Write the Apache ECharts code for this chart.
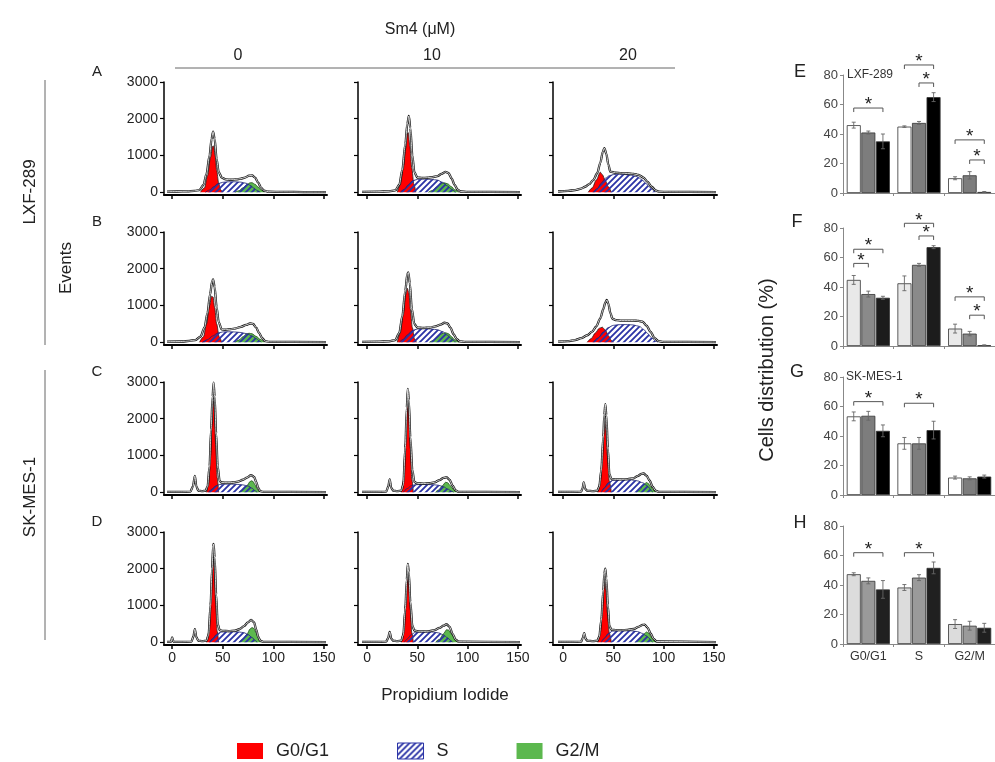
<!DOCTYPE html>
<html><head><meta charset="utf-8">
<script src="https://cdn.jsdelivr.net/npm/echarts@6/dist/echarts.min.js"></script>
<style>html,body{margin:0;padding:0;background:#fff}#c{width:995px;height:762px}</style>
</head><body><div id="c"></div>
<script>
// ---------- Histogram data (Propidium Iodide, Events) ----------
// Rows A,B: LXF-289; rows C,D: SK-MES-1; columns: Sm4 0, 10, 20 µM
const A0_env=[[-5,15],[5,20],[15,25],[22,35],[27,60],[31,200],[34,500],[37,1000],[39,1450],[40.5,1650],[42,1450],[44,900],[46,550],[49,400],[53,350],[58,340],[63,350],[68,370],[72,400],[76,450],[79,460],[82,400],[85,260],[88,120],[91,40],[95,15],[110,10],[130,5],[152,5]];
const A0_g1=[[28,0],[32,120],[35,450],[38,950],[40,1250],[41,1260],[42.5,1000],[44,600],[46,250],[48,60],[50,0]];
const A0_s=[[33,0],[37,60],[41,150],[45,230],[50,270],[56,285],[62,285],[68,275],[73,245],[77,190],[81,110],[84,45],[87,0]];
const A0_g2=[[62,0],[66,40],[70,120],[74,210],[77,255],[79,260],[82,215],[85,140],[88,60],[91,0]];

const A1_env=[[-5,10],[10,15],[22,25],[28,50],[32,200],[35,600],[38,1300],[40,1850],[41.5,2075],[43,1750],[45,1000],[47,550],[50,400],[55,390],[60,395],[65,410],[70,440],[74,500],[78,555],[81,520],[84,380],[87,200],[90,70],[93,20],[100,10],[152,5]];
const A1_g1=[[30,0],[33,200],[36,650],[38.5,1200],[40,1600],[41,1620],[42.5,1250],[44.5,650],[46.5,220],[48.5,0]];
const A1_s=[[33,0],[37,80],[41,200],[45,310],[50,350],[57,355],[64,350],[70,330],[75,270],[80,170],[84,80],[88,0]];
const A1_g2=[[61,0],[65,50],[69,140],[73,225],[77,255],[80,230],[84,150],[87,70],[91,0]];

const A2_env=[[-5,20],[5,35],[12,60],[18,100],[22,150],[26,220],[30,330],[34,520],[37,800],[39.5,1100],[41,1200],[43,1050],[45,750],[47,560],[52,530],[58,520],[64,510],[70,500],[75,470],[80,400],[84,280],[88,150],[92,50],[95,15],[105,10],[152,5]];
const A2_g1=[[25,0],[29,120],[33,330],[37,545],[39,480],[42,320],[45,150],[48,0]];
const A2_s=[[30,0],[34,100],[38,250],[42,380],[46,450],[50,480],[56,490],[62,480],[68,460],[74,420],[78,350],[82,250],[86,140],[90,50],[92,0]];
const A2_g2=[];

const B0_env=[[-5,15],[10,20],[17,35],[23,60],[28,150],[32,400],[35,800],[37.5,1300],[39.5,1650],[40.5,1710],[42,1500],[44,950],[46,550],[49,350],[53,340],[58,355],[63,380],[68,420],[73,470],[77,510],[80,500],[83,400],[86,250],[89,110],[92,30],[96,10],[152,5]];
const B0_g1=[[27,0],[31,150],[34,500],[37,1000],[39,1255],[40.5,1230],[42,950],[44,500],[46.5,150],[49,0]];
const B0_s=[[30,0],[35,70],[40,170],[45,250],[50,280],[56,285],[62,280],[68,265],[74,230],[79,170],[83,100],[86,40],[88,0]];
const B0_g2=[[62,0],[66,60],[70,150],[73,220],[76,245],[79,230],[83,160],[87,80],[91,0]];

const B1_env=[[-5,10],[10,15],[22,25],[28,60],[32,250],[35,700],[38,1400],[40,1850],[41,1900],[42.5,1600],[44.5,900],[47,500],[50,400],[56,390],[62,400],[68,430],[73,480],[77,530],[80,510],[83,390],[86,220],[89,90],[92,25],[98,10],[152,5]];
const B1_g1=[[30,0],[33,250],[36,750],[38.5,1300],[40,1470],[41.5,1350],[43,900],[45,400],[47,100],[49,0]];
const B1_s=[[32,0],[36,80],[40,200],[45,320],[50,360],[57,365],[64,360],[70,340],[75,290],[80,190],[84,90],[88,0]];
const B1_g2=[[62,0],[66,50],[70,140],[74,230],[78,260],[81,230],[84,150],[87,70],[91,0]];

const B2_env=[[-5,15],[5,30],[12,60],[18,110],[24,190],[29,290],[33,430],[37,650],[40,900],[42,1080],[43.5,1150],[45,1050],[47,800],[49,640],[53,600],[58,590],[64,590],[70,590],[75,580],[79,560],[83,450],[87,280],[91,110],[95,30],[100,10],[152,5]];
const B2_g1=[[24,0],[28,100],[32,250],[36,380],[39,410],[42,330],[45,180],[48,50],[50,0]];
const B2_s=[[30,0],[35,120],[40,280],[45,400],[50,460],[57,480],[64,480],[70,470],[76,430],[80,350],[84,240],[88,120],[92,30],[94,0]];
const B2_g2=[];

const C0_env=[[-5,10],[10,10],[18,15],[20.5,150],[22.5,445],[24,150],[26,40],[30,30],[33,40],[35,150],[37,700],[38.5,1700],[40,2600],[41,2985],[42,2600],[43.5,1600],[45,700],[47,300],[49,265],[55,260],[60,265],[65,290],[70,340],[74,400],[78,465],[81,420],[83,280],[85,120],[87,30],[90,10],[152,5]];
const C0_g1=[[34,0],[36,200],[38,1000],[39.5,1900],[40.5,2490],[41.5,2300],[43,1300],[44.5,400],[46,0]];
const C0_s=[[36,0],[39,80],[43,170],[47,210],[52,220],[58,220],[64,215],[70,200],[75,170],[79,110],[82,40],[84,0]];
const C0_g2=[[66,0],[70,60],[74,180],[77,290],[78.5,310],[80,290],[82,200],[84,90],[86,0]];

const C1_env=[[-5,10],[10,10],[19,15],[21,150],[22.5,350],[24,120],[26,40],[30,30],[34,40],[36,200],[38,1200],[39.5,2300],[40.5,2810],[41.5,2500],[43,1500],[45,600],[47,280],[50,240],[56,235],[62,245],[67,270],[72,330],[76,390],[79,410],[82,340],[85,180],[88,50],[91,10],[152,5]];
const C1_g1=[[34,0],[36,300],[38,1300],[39.5,2200],[40.5,2580],[41.5,2300],[43,1200],[44.5,350],[46,0]];
const C1_s=[[36,0],[40,100],[44,180],[48,205],[54,210],[60,210],[66,205],[71,190],[76,150],[80,90],[84,30],[86,0]];
const C1_g2=[[68,0],[71,60],[75,180],[78,270],[80,260],[83,170],[86,70],[89,0]];

const C2_env=[[-5,10],[10,10],[18,15],[19.5,120],[20.5,270],[22,90],[24,40],[30,30],[34,40],[36,150],[38,600],[40,1500],[41,2100],[42,2400],[43,2100],[44.5,1200],[46,500],[48,360],[53,350],[58,350],[64,355],[70,380],[74,440],[78,500],[80,510],[83,450],[86,320],[89,150],[92,40],[95,10],[152,5]];
const C2_g1=[[34.5,0],[37,300],[39,1000],[40.5,1700],[41.5,1950],[42.5,1700],[44,1000],[46,300],[48,0]];
const C2_s=[[38,0],[41,120],[45,260],[49,320],[55,340],[62,340],[68,335],[74,310],[79,260],[83,190],[86,110],[88,40],[89,0]];
const C2_g2=[[73,0],[76,60],[79,160],[81,230],[83,265],[85,230],[87,150],[90,60],[92,0]];

const D0_env=[[-5,10],[-1,10],[0,130],[1.5,10],[10,10],[19,15],[21,150],[22.5,355],[24,130],[26,40],[30,30],[34,40],[36,200],[38,1000],[39.5,2000],[40.5,2600],[41,2675],[42,2300],[43.5,1300],[45,500],[47,330],[50,310],[56,305],[62,315],[67,360],[71,440],[75,540],[78,610],[81,540],[83,350],[85,150],[87,40],[90,10],[152,5]];
const D0_g1=[[34,0],[36,250],[38,1100],[39.5,1900],[40.5,2220],[41.5,2000],[43,1100],[44.5,300],[46,0]];
const D0_s=[[37,0],[40,100],[44,220],[48,275],[54,285],[60,285],[66,280],[71,260],[75,210],[79,130],[82,50],[84,0]];
const D0_g2=[[66,0],[70,80],[74,220],[77,360],[79,400],[81,370],[83,250],[86,100],[88,0]];

const D1_env=[[-5,10],[10,10],[19,15],[21,120],[22.5,280],[24,100],[26,40],[30,30],[34,40],[36,200],[38,900],[39.5,1700],[40.5,2130],[41.5,1900],[43,1100],[45,450],[47,320],[50,300],[56,295],[62,300],[67,330],[72,390],[76,450],[79,490],[82,420],[85,230],[88,70],[91,15],[152,5]];
const D1_g1=[[34,0],[36,250],[38,1000],[39.5,1600],[40.5,1830],[41.5,1650],[43,900],[44.5,250],[46,0]];
const D1_s=[[37,0],[40,90],[44,210],[48,270],[54,280],[60,280],[66,275],[71,255],[76,200],[80,120],[83,50],[85,0]];
const D1_g2=[[68,0],[72,80],[76,230],[79,340],[81,330],[84,220],[87,90],[90,0]];

const D2_env=[[-5,10],[10,10],[18,15],[19.5,110],[21,250],[22.5,90],[24,40],[30,30],[34,40],[36,150],[38,600],[40,1400],[41,1850],[42,2000],[43,1750],[44.5,1000],[46,450],[48,340],[53,330],[58,330],[64,335],[70,360],[75,420],[79,470],[81,480],[84,400],[87,240],[90,90],[93,20],[152,5]];
const D2_g1=[[34.5,0],[37,250],[39,900],[40.5,1450],[41.5,1650],[42.5,1450],[44,800],[46,250],[48,0]];
const D2_s=[[38,0],[41,110],[45,240],[49,300],[55,315],[62,315],[68,310],[74,290],[79,240],[83,170],[86,100],[88,30],[89,0]];
const D2_g2=[[72,0],[76,70],[79,170],[81,240],[83,280],[85,250],[87,170],[90,60],[92,0]];

const histTicksX=[0,50,100,150];
const histTicksY=[0,1000,2000,3000];
const doseLabels=['0','10','20'];
const rowLetters=['A','B','C','D'];

// ---------- Bar data (Cells distribution %) ----------
const phases=['G0/G1','S','G2/M'];
const E_0=[46,45,10],   E_10=[41,47.5,12],  E_20=[35,65,0.7];
const E_0e=[2,0.5,1],   E_10e=[1,1,2.5],    E_20e=[5,3,0.3];
const F_0=[44.8,42.5,11.8], F_10=[35.2,55,8.4], F_20=[32.7,67,0.5];
const F_0e=[3,5,3],     F_10e=[2,1,1.5],    F_20e=[1,1,0.3];
const G_0=[53.3,35,11.8], G_10=[53.7,35,11.3], G_20=[43.5,44,12.5];
const G_0e=[3,4,1],     G_10e=[3,4,1],      G_20e=[4,6,1];
const H_0=[47.3,38.3,13.5], H_10=[42.8,45,12.4], H_20=[37,51.6,11];
const H_0e=[1,2,3],     H_10e=[2,2,3],      H_20e=[6,4,3];
// significance brackets: [phase index, from bar, to bar, height %]
const E_sig=[[0,0,2,57.6],[1,0,2,86.8],[1,1,2,74.6],[2,0,2,36],[2,1,2,22.4]];
const F_sig=[[0,0,2,65.6],[0,0,1,56],[1,0,2,83.2],[1,1,2,74.6],[2,0,2,33.3],[2,1,2,20.9]];
const G_sig=[[0,0,2,63.3],[1,0,2,62.2]];
const H_sig=[[0,0,2,61.9],[1,0,2,61.9]];

// ---------- build ----------
const FONT='"Liberation Sans", Arial, sans-serif';
function makeHatch(){
  const c=document.createElement('canvas'); c.width=6; c.height=6;
  const x=c.getContext('2d');
  x.strokeStyle='#2a33a6'; x.lineWidth=1.8; x.lineCap='square';
  x.beginPath();
  x.moveTo(-1,7); x.lineTo(7,-1);
  x.moveTo(-4,4); x.lineTo(4,-4);
  x.moveTo(2,10); x.lineTo(10,2);
  x.stroke();
  return c;
}
const hatch={image:makeHatch(),repeat:'repeat'};
const RED='#ff0000', GREEN='#5cb84e';

const hist=[
  [[A0_env,A0_g1,A0_s,A0_g2],[A1_env,A1_g1,A1_s,A1_g2],[A2_env,A2_g1,A2_s,A2_g2]],
  [[B0_env,B0_g1,B0_s,B0_g2],[B1_env,B1_g1,B1_s,B1_g2],[B2_env,B2_g1,B2_s,B2_g2]],
  [[C0_env,C0_g1,C0_s,C0_g2],[C1_env,C1_g1,C1_s,C1_g2],[C2_env,C2_g1,C2_s,C2_g2]],
  [[D0_env,D0_g1,D0_s,D0_g2],[D1_env,D1_g1,D1_s,D1_g2],[D2_env,D2_g1,D2_s,D2_g2]]
];
const colLeft=[164,358,553], colWidth=[163,163,164], colMin=[-8,-9,-10];
const rowTop=[82,232,382,532];
const plain=v=>String(v);

const grid=[], xAxis=[], yAxis=[], series=[];
for(let r=0;r<4;r++) for(let c=0;c<3;c++){
  const i=grid.length;
  grid.push({left:colLeft[c],top:rowTop[r],width:colWidth[c],height:113});
  xAxis.push({gridIndex:i,type:'value',min:colMin[c],max:153,
    axisLine:{show:true,onZero:false,lineStyle:{color:'#000',width:2}},
    axisTick:{show:true,customValues:histTicksX,length:4,lineStyle:{color:'#000',width:1.5}},
    axisLabel:{show:r===3,customValues:histTicksX,formatter:plain,fontSize:14,color:'#222',fontFamily:FONT,margin:6},
    splitLine:{show:false}});
  yAxis.push({gridIndex:i,type:'value',min:-75,max:3000,
    axisLine:{show:true,onZero:false,lineStyle:{color:'#000',width:1.5}},
    axisTick:{show:true,customValues:histTicksY,length:4,lineStyle:{color:'#000',width:1.2}},
    axisLabel:{show:c===0,customValues:histTicksY,formatter:plain,fontSize:14,color:'#222',fontFamily:FONT,margin:6},
    splitLine:{show:false}});
  const [env,g1,s,g2]=hist[r][c];
  const base={type:'line',xAxisIndex:i,yAxisIndex:i,symbol:'none',smooth:0.3,smoothMonotone:'x',silent:true,animation:false};
  series.push(Object.assign({},base,{name:'G0/G1',data:g1,z:2,itemStyle:{color:RED},lineStyle:{color:'#222',width:0.8},areaStyle:{color:RED,opacity:1}}));
  series.push(Object.assign({},base,{name:'G2/M',data:g2,z:3,itemStyle:{color:GREEN},lineStyle:{color:'#1f4a1a',width:0.8},areaStyle:{color:GREEN,opacity:1}}));
  series.push(Object.assign({},base,{name:'S',data:s,z:4,itemStyle:{color:hatch},lineStyle:{color:'#1c2270',width:0.8},areaStyle:{color:hatch,opacity:1}}));
  series.push(Object.assign({},base,{data:env,z:5,lineStyle:{color:'#111',width:2.3}}));
  series.push(Object.assign({},base,{data:env,z:6,lineStyle:{color:'#fff',width:0.8}}));
}

// bar panels
const barPanels=[
  {top:75, vals:[E_0,E_10,E_20], errs:[E_0e,E_10e,E_20e], sig:E_sig, colors:['#ffffff','#7d7d7d','#000000']},
  {top:228,vals:[F_0,F_10,F_20], errs:[F_0e,F_10e,F_20e], sig:F_sig, colors:['#e9e9e9','#8a8a8a','#1c1c1c']},
  {top:377,vals:[G_0,G_10,G_20], errs:[G_0e,G_10e,G_20e], sig:G_sig, colors:['#ffffff','#7d7d7d','#000000']},
  {top:526,vals:[H_0,H_10,H_20], errs:[H_0e,H_10e,H_20e], sig:H_sig, colors:['#dcdcdc','#9a9a9a','#202020']}
];
const BW=14, STEP=14.6;
barPanels.forEach((p,k)=>{
  const i=grid.length;
  grid.push({left:843,top:p.top,width:159,height:118});
  xAxis.push({gridIndex:i,type:'category',data:phases,
    axisLine:{show:true,lineStyle:{color:'#888',width:1}},
    axisTick:{show:true,length:3,lineStyle:{color:'#888'}},
    axisLabel:{show:k===3,fontSize:12.5,color:'#333',fontFamily:FONT,margin:6}});
  yAxis.push({gridIndex:i,type:'value',min:0,max:80,interval:20,
    axisLine:{show:true,lineStyle:{color:'#888',width:1}},
    axisTick:{show:true,length:3,lineStyle:{color:'#888'}},
    axisLabel:{fontSize:13,color:'#444',fontFamily:FONT,margin:5},
    splitLine:{show:false}});
  p.vals.forEach((v,d)=>{
    series.push({type:'bar',xAxisIndex:i,yAxisIndex:i,data:v,barWidth:BW,barGap:'4%',silent:true,animation:false,
      itemStyle:{color:p.colors[d],borderColor:'#333',borderWidth:0.8}});
  });
  const ed=[];
  p.vals.forEach((v,d)=>v.forEach((m,ph)=>ed.push([ph,d,m,p.errs[d][ph]])));
  series.push({type:'custom',xAxisIndex:i,yAxisIndex:i,data:ed,encode:{x:0,y:2},z:5,silent:true,animation:false,clip:false,
    renderItem:(params,api)=>{
      const ph=api.value(0),d=api.value(1),m=api.value(2),e=api.value(3);
      const t=api.coord([ph,m+e]), b=api.coord([ph,m-e]);
      const x=t[0]+(d-1)*STEP;
      const st={stroke:'#666',lineWidth:0.9};
      return {type:'group',children:[
        {type:'line',shape:{x1:x,y1:t[1],x2:x,y2:b[1]},style:st},
        {type:'line',shape:{x1:x-2,y1:t[1],x2:x+2,y2:t[1]},style:st},
        {type:'line',shape:{x1:x-2,y1:b[1],x2:x+2,y2:b[1]},style:st}]};
    }});
  series.push({type:'custom',xAxisIndex:i,yAxisIndex:i,data:p.sig,encode:{x:0,y:3},z:6,silent:true,animation:false,clip:false,
    renderItem:(params,api)=>{
      const ph=api.value(0),a=api.value(1),b=api.value(2),h=api.value(3);
      const c=api.coord([ph,h]);
      const x1=c[0]+(a-1)*STEP, x2=c[0]+(b-1)*STEP, y=c[1];
      const st={stroke:'#555',lineWidth:1,fill:null};
      return {type:'group',children:[
        {type:'polyline',shape:{points:[[x1,y+4],[x1,y],[x2,y],[x2,y+4]]},style:st},
        {type:'text',x:(x1+x2)/2,y:y-3,style:{text:'*',fontSize:19,fontFamily:FONT,fill:'#222',align:'center',verticalAlign:'middle'}}]};
    }});
});

function txt(t,x,y,fs,extra){return Object.assign({type:'text',x:x,y:y,silent:true,style:{text:t,fontSize:fs,fontFamily:FONT,fill:'#222',align:'center',verticalAlign:'middle'}},extra||{});}
function ln(x1,y1,x2,y2){return {type:'line',silent:true,shape:{x1,y1,x2,y2},style:{stroke:'#666',lineWidth:1}};}
const graphic=[
  txt('Sm4 (μM)',420,30,16),
  txt(doseLabels[0],238,56,16), txt(doseLabels[1],432,56,16), txt(doseLabels[2],628,56,16),
  ln(175,68,675,68),
  txt(rowLetters[0],97,72,15), txt(rowLetters[1],97,222,15), txt(rowLetters[2],97,372,15), txt(rowLetters[3],97,522,15),
  txt('LXF-289',30,192,17,{rotation:Math.PI/2}), ln(45,80,45,345),
  txt('SK-MES-1',30,497,17,{rotation:Math.PI/2}), ln(45,370,45,640),
  txt('Events',66,268,17,{rotation:Math.PI/2}),
  txt('Propidium Iodide',445,695,17),
  txt('E',800,72,18), txt('F',797,222,18), txt('G',797,372,18), txt('H',800,523,18),
  txt('Cells distribution (%)',767,370,20,{rotation:Math.PI/2}),
  txt('LXF-289',847,75,12,{style:{text:'LXF-289',fontSize:12,fontFamily:FONT,fill:'#333',align:'left',verticalAlign:'middle'}}),
  txt('SK-MES-1',846,377,12,{style:{text:'SK-MES-1',fontSize:12,fontFamily:FONT,fill:'#333',align:'left',verticalAlign:'middle'}})
];

const chart=echarts.init(document.getElementById('c'),null,{renderer:'canvas'});
chart.setOption({
  animation:false,
  backgroundColor:'#fff',
  textStyle:{fontFamily:FONT},
  grid:grid, xAxis:xAxis, yAxis:yAxis, series:series, graphic:graphic,
  legend:{left:237,top:742,padding:0,icon:'rect',itemWidth:26,itemHeight:16,itemGap:68,selectedMode:false,
    textStyle:{fontSize:18,color:'#222',fontFamily:FONT,padding:[0,0,0,8]},
    data:[{name:'G0/G1',itemStyle:{color:RED}},{name:'S',itemStyle:{color:hatch,borderColor:'#2a33a6',borderWidth:1}},{name:'G2/M',itemStyle:{color:GREEN}}]}
});
</script></body></html>
